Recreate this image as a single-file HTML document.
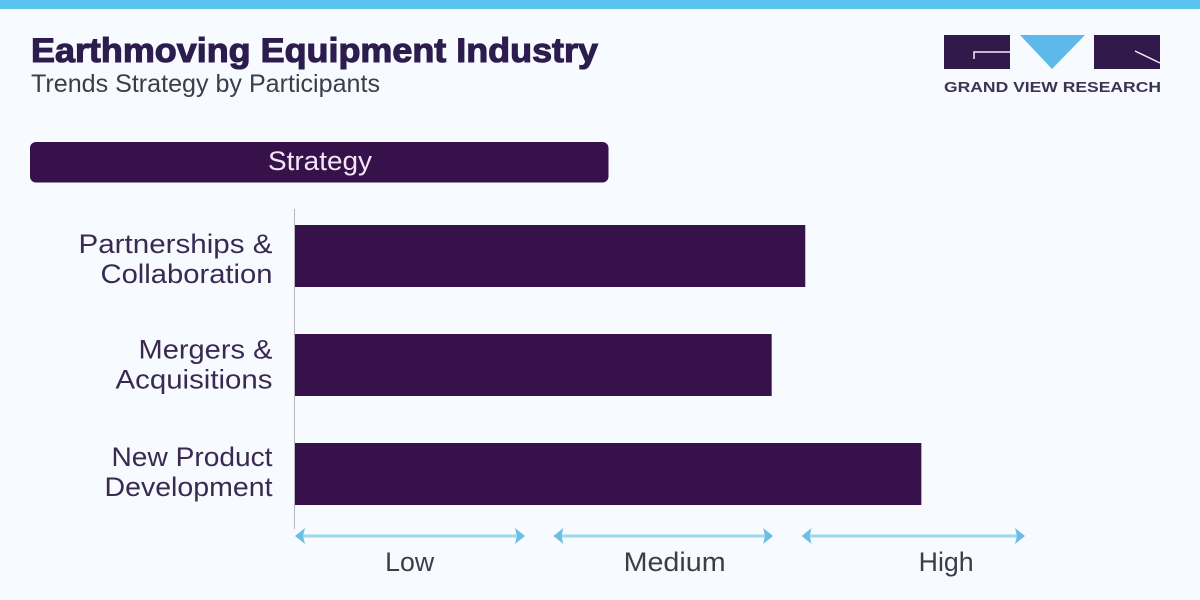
<!DOCTYPE html>
<html lang="en">
<head>
<meta charset="utf-8">
<title>Earthmoving Equipment Industry</title>
<style>
html,body{margin:0;padding:0;width:1200px;height:600px;overflow:hidden;background:#f7faff;}
svg{display:block;font-family:"Liberation Sans",sans-serif;}
</style>
</head>
<body>
<svg id="chart" xmlns="http://www.w3.org/2000/svg" width="1200" height="600" viewBox="0 0 1200 600">
  <rect x="0" y="0" width="1200" height="600" fill="#f7faff"/>
  <rect x="0" y="0" width="1200" height="9" fill="#5cc3ef"/>
  <text x="31" y="62" font-size="34" font-weight="700" fill="#2c1d4e" stroke="#2c1d4e" stroke-width="1.1" textLength="567" lengthAdjust="spacingAndGlyphs">Earthmoving Equipment Industry</text>
  <text x="31" y="92" font-size="25" fill="#3d3d4a" textLength="349" lengthAdjust="spacingAndGlyphs">Trends Strategy by Participants</text>

  <g>
    <rect x="944" y="35" width="66" height="34" fill="#32194c"/>
    <path d="M974 59V52H1010" fill="none" stroke="#f4eef8" stroke-width="1.5"/>
    <polygon points="1020,35 1085,35 1052,69" fill="#5cb9e9"/>
    <rect x="1094" y="35" width="66" height="34" fill="#32194c"/>
    <path d="M1135 51L1160 63" fill="none" stroke="#f4eef8" stroke-width="1.5"/>
    <text x="944" y="92" font-size="14.5" font-weight="700" fill="#3f3352" textLength="217" lengthAdjust="spacingAndGlyphs">GRAND VIEW RESEARCH</text>
  </g>

  <rect x="30" y="142" width="578.5" height="40.5" rx="6" ry="6" fill="#37124a"/>
  <text x="268" y="170" font-size="27" fill="#f3e6f7" textLength="104" lengthAdjust="spacingAndGlyphs">Strategy</text>

  <line x1="294.5" y1="209" x2="294.5" y2="529" stroke="#b9b6bf" stroke-width="1"/>
  <g id="bars"></g>
  <g id="labels"></g>
  <g id="axis"></g>
</svg>

<script>
// Chart data
const categoryLines = [
  ["Partnerships &", "Collaboration"],
  ["Mergers &", "Acquisitions"],
  ["New Product", "Development"]
];
const categoryLineWidths = [[194, 172], [134, 157], [161, 168]];
const strategyScores = [69.9, 65.3, 85.8];
const levelLabels = ["Low", "Medium", "High"];
const levelStarts = [0, 35.4, 69.4];
const levelEnds = [31.5, 65.5, 100];
const levelLabelCentres = [15.7, 52.0, 89.2];
const levelLabelWidths = [49, 102, 55];

// Axis functions
const xMin = 0, xMax = 100;
const plotLeft = 295, plotRight = 1025;
function xScale(v) {
  return plotLeft + (v - xMin) / (xMax - xMin) * (plotRight - plotLeft);
}
const bandTop = 225, bandStep = 109, barHeight = 62;
function bandY(i) {
  return bandTop + i * bandStep;
}
// Label block baseline drifts slightly upward relative to each bar
function labelBaseline(i, j) {
  return 253 + i * 106.5 + j * 30 - (i === 1 ? 1 : 0);
}

const NS = "http://www.w3.org/2000/svg";
const barsGroup = document.getElementById("bars");
const labelsGroup = document.getElementById("labels");
const axisGroup = document.getElementById("axis");

strategyScores.forEach(function (value, i) {
  const bar = document.createElementNS(NS, "rect");
  bar.setAttribute("x", xScale(0));
  bar.setAttribute("y", bandY(i));
  bar.setAttribute("width", xScale(value) - xScale(0));
  bar.setAttribute("height", barHeight);
  bar.setAttribute("fill", "#37124a");
  
  
  barsGroup.appendChild(bar);
});

categoryLines.forEach(function (lines, i) {
  lines.forEach(function (line, j) {
    const t = document.createElementNS(NS, "text");
    t.setAttribute("x", 272.5 - categoryLineWidths[i][j]);
    t.setAttribute("y", labelBaseline(i, j));
    t.setAttribute("font-size", "27");
    t.setAttribute("fill", "#3a2a52");
    t.setAttribute("textLength", categoryLineWidths[i][j]);
    t.setAttribute("lengthAdjust", "spacingAndGlyphs");
    t.textContent = line;
    
    
    labelsGroup.appendChild(t);
  });
});

const axisY = 536;
levelLabels.forEach(function (label, i) {
  const x1 = xScale(levelStarts[i]);
  const x2 = xScale(levelEnds[i]);

  const shaft = document.createElementNS(NS, "line");
  shaft.setAttribute("x1", x1 + 4);
  shaft.setAttribute("x2", x2 - 4);
  shaft.setAttribute("y1", axisY);
  shaft.setAttribute("y2", axisY);
  shaft.setAttribute("stroke", "#9cd8ee");
  shaft.setAttribute("stroke-width", "3");
  
  
  axisGroup.appendChild(shaft);

  const leftHead = document.createElementNS(NS, "polygon");
  leftHead.setAttribute("points", [x1, axisY, x1 + 10, axisY - 8, x1 + 8, axisY, x1 + 10, axisY + 8].join(" "));
  leftHead.setAttribute("fill", "#6dbde4");
  
  
  axisGroup.appendChild(leftHead);

  const rightHead = document.createElementNS(NS, "polygon");
  rightHead.setAttribute("points", [x2, axisY, x2 - 10, axisY - 8, x2 - 8, axisY, x2 - 10, axisY + 8].join(" "));
  rightHead.setAttribute("fill", "#6dbde4");
  
  
  axisGroup.appendChild(rightHead);

  const t = document.createElementNS(NS, "text");
  t.setAttribute("x", xScale(levelLabelCentres[i]) - levelLabelWidths[i] / 2);
  t.setAttribute("y", 571);
  t.setAttribute("font-size", "27");
  t.setAttribute("fill", "#3d3d4a");
  t.setAttribute("textLength", levelLabelWidths[i]);
  t.setAttribute("lengthAdjust", "spacingAndGlyphs");
  t.textContent = label;
  
  
  axisGroup.appendChild(t);
});
</script>
</body>
</html>
